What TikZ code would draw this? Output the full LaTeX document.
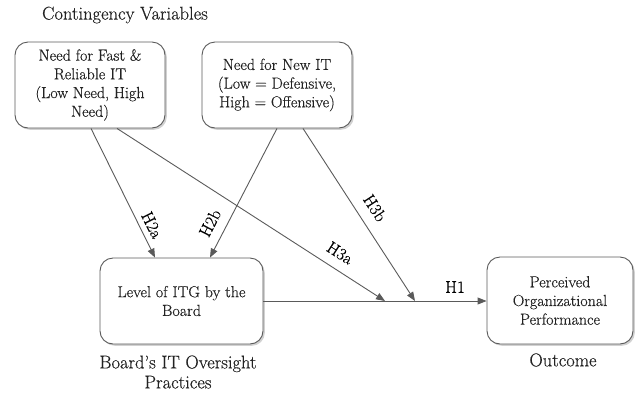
\documentclass[tikz,border=0pt]{standalone}
\usepackage{fontspec}
\setmainfont{Latin Modern Roman}[FakeBold=0.35]
\usetikzlibrary{arrows.meta,shadows}
\definecolor{lineg}{HTML}{5A5A5A}
\definecolor{textg}{HTML}{222222}
\tikzset{
  box/.style={draw=lineg, line width=0.9pt, rounded corners=13pt, fill=white,
    drop shadow={shadow xshift=1.8pt, shadow yshift=-1.8pt, fill=black!18, opacity=1},
    align=center, text=textg, font=\fontsize{16}{18.7}\selectfont, inner sep=0pt},
  conn/.style={draw=lineg, line width=0.9pt, -{Triangle[length=9pt,width=7pt]}},
  hlab/.style={text=black, font=\fontsize{17}{20}\selectfont, inner sep=0pt},
  grp/.style={text=textg, font=\fontsize{18.5}{20}\selectfont, align=center, inner sep=0pt},
}
\begin{document}
\begin{tikzpicture}[x=1pt,y=-1pt]
\useasboundingbox (0,0) rectangle (635,392);
\node[box, minimum width=150pt, minimum height=86pt] (A) at (90,85) {Need for Fast \&\\Reliable IT\\(Low Need, High\\Need)};
\node[box, minimum width=150pt, minimum height=86pt] (B) at (277,85) {Need for New IT\\(Low = Defensive,\\High = Offensive)};
\node[box, minimum width=163pt, minimum height=86pt] (C) at (181.5,301) {Level of ITG by the\\Board};
\node[box, minimum width=146pt, minimum height=87pt] (D) at (560,300.5) {Perceived\\Organizational\\Performance};
\node[grp] (cv) at (125,15) {Contingency Variables};
\node[grp] (bo) at (178,372) {Board’s IT Oversight\\Practices};
\node[grp] (oc) at (563,360) {Outcome};
\coordinate (j1) at (385,301);
\coordinate (j2) at (415,301);
\draw[conn] (C.east |- j1) -- (D.west |- j1);
\draw[conn] ([xshift=1pt]A.south) -- ([xshift=-26.5pt]C.north);
\draw[conn] ([xshift=0pt]B.south) -- ([xshift=28.5pt]C.north);
\draw[conn] ([xshift=27pt]A.south) -- (j1);
\draw[conn] ([xshift=26pt]B.south) -- (j2);
\node[hlab, rotate=-63.6] (h2a) at (152,225) {H2a};
\node[hlab, rotate=62.6] (h2b) at (210,223) {H2b};
\node[hlab, rotate=-32.7] (h3a) at (340,253) {H3a};
\node[hlab, rotate=-57] (h3b) at (375,208) {H3b};
\node[hlab] (h1) at (455,287) {H1};
\end{tikzpicture}
\end{document}
